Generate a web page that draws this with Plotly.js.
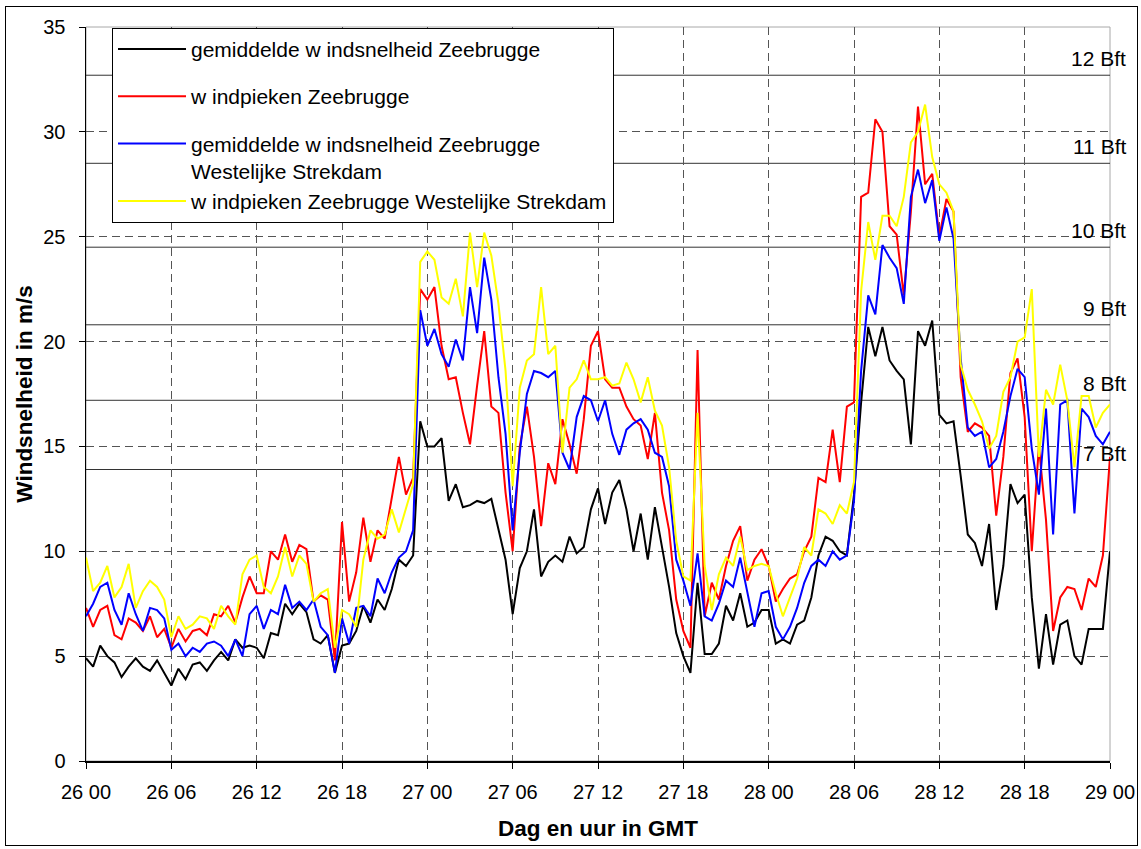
<!DOCTYPE html>
<html>
<head>
<meta charset="utf-8">
<script src="https://cdn.plot.ly/plotly-3.0.1.min.js"></script>
<style>
  html, body { margin: 0; padding: 0; background: #fff; }
  #wrap { position: relative; width: 1141px; height: 849px; }
  #chart { position: absolute; left: 0; top: 0; width: 1141px; height: 849px; }
  #frame { position: absolute; left: 5px; top: 6px; width: 1131px; height: 838px;
           border: 1.5px solid #000; pointer-events: none; }
</style>
</head>
<body>
<div id="wrap"><div id="chart"></div><div id="frame"></div></div>
<script>
// Time axis: half-hour samples from 26 00 (0 h) to 29 00 (72 h)
const tickHours = [0, 6, 12, 18, 24, 30, 36, 42, 48, 54, 60, 66, 72];
const tickLabels = ["26 00", "26 06", "26 12", "26 18", "27 00", "27 06", "27 12",
                    "27 18", "28 00", "28 06", "28 12", "28 18", "29 00"];
const yTicks = [0, 5, 10, 15, 20, 25, 30, 35];

// Series names
const names = [
  "gemiddelde w indsnelheid Zeebrugge",
  "w indpieken Zeebrugge",
  "gemiddelde w indsnelheid Zeebrugge<br>Westelijke Strekdam",
  "w indpieken Zeebrugge Westelijke Strekdam"
];

// gemiddelde windsnelheid Zeebrugge (m/s)
const meanZeebrugge = [
  4.9,4.5,5.5,5.0,4.7,4.0,4.5,4.9,4.5,4.3,4.8,4.2, 3.6,4.4,3.9,4.6,4.7,4.3,4.8,5.2,4.8,5.8,5.4,5.5,
  5.4,4.9,6.1,6.0,7.5,7.0,7.5,7.1,5.8,5.6,6.0,4.2, 5.5,5.6,6.2,7.4,6.6,7.7,7.2,8.2,9.6,9.3,9.8,16.2,
  15.0,15.0,15.4,12.4,13.2,12.1,12.2,12.4,12.3,12.5,11.0,9.6, 7.0,9.2,10.0,12.0,8.8,9.5,9.8,9.5,10.7,9.9,10.2,12.0,
  13.0,11.3,12.8,13.4,12.0,10.0,11.8,9.6,12.1,10.2,8.3,6.1, 5.0,4.2,8.5,5.1,5.1,5.6,7.4,6.7,8.0,6.4,6.6,7.2,
  7.2,5.6,5.8,5.6,6.5,6.7,7.8,9.8,10.7,10.5,10.0,9.8, 12.7,17.1,20.7,19.3,20.7,19.1,18.6,18.2,15.1,20.5,19.8,21.0,
  16.5,16.1,16.2,13.6,10.8,10.4,9.3,11.3,7.2,9.3,13.2,12.3, 12.7,7.8,4.4,7.0,4.6,6.5,6.7,5.0,4.6,6.3,6.3,6.3,10.0
];

// windpieken Zeebrugge (m/s)
const gustZeebrugge = [
  7.3,6.4,7.2,7.4,6.0,5.8,6.8,6.6,6.2,6.9,5.9,6.3, 5.4,6.3,5.7,6.2,6.3,6.0,7.0,6.9,7.4,6.6,7.8,8.8,
  8.0,8.0,10.0,9.6,10.8,9.5,10.3,10.1,7.6,7.9,7.7,4.8, 11.4,7.6,9.0,11.6,9.5,11.0,10.6,12.5,14.5,12.7,13.5,22.5,
  22.0,22.6,19.8,18.2,18.3,16.6,15.1,17.9,20.5,16.9,16.6,12.8, 10.0,15.0,16.9,14.5,11.2,14.2,13.2,16.3,15.1,13.7,16.3,19.8,
  20.5,18.2,17.8,17.8,16.9,16.3,16.0,14.4,16.6,12.8,11.0,7.7, 6.2,5.4,19.6,6.9,8.5,7.7,9.3,10.5,11.2,8.6,9.6,10.1,
  9.3,7.6,8.2,8.7,8.9,10.0,10.7,13.5,13.3,15.8,13.3,16.9, 17.1,26.9,27.1,30.6,30.0,25.5,25.1,22.2,26.2,31.2,27.5,28.0,
  25.0,26.8,26.2,18.3,15.7,16.1,15.9,15.5,11.7,14.5,18.5,19.2, 16.4,10.0,15.0,11.5,6.2,7.8,8.3,8.2,7.2,8.7,8.3,9.8,14.5
];

// gemiddelde windsnelheid Zeebrugge Westelijke Strekdam (m/s)
const meanStrekdam = [
  6.9,7.5,8.3,8.5,7.2,6.5,8.0,7.0,6.2,7.3,7.2,6.8, 5.3,5.6,5.0,5.4,5.2,5.6,5.7,5.5,5.0,5.8,5.0,7.0,
  7.4,6.3,7.2,7.0,8.4,7.3,7.6,7.2,7.7,6.4,6.0,4.2, 6.8,5.6,7.3,7.4,6.9,8.7,8.0,9.0,9.7,10.0,11.0,21.5,
  19.8,20.6,19.4,18.8,20.1,19.1,22.6,20.4,24.0,22.0,18.3,15.6, 11.0,14.7,17.5,18.6,18.5,18.3,18.6,14.7,13.9,16.4,17.4,17.2,
  16.2,17.2,15.6,14.6,15.8,16.1,16.3,15.8,14.7,14.5,13.1,9.6, 8.6,7.4,9.9,6.9,6.7,7.5,8.6,8.3,9.7,8.1,6.4,8.0,
  8.1,6.4,5.8,6.4,7.3,8.5,9.3,9.6,9.3,10.0,9.6,9.8, 12.4,18.6,22.2,21.3,24.6,24.0,23.5,21.8,26.9,28.2,26.6,27.7,
  24.8,26.4,24.9,19.2,15.9,15.5,15.7,14.0,14.4,15.7,17.4,18.7, 18.3,14.9,12.7,16.8,10.8,17.0,17.2,11.8,16.8,16.4,15.5,15.1,15.7
];

// windpieken Zeebrugge Westelijke Strekdam (m/s)
const gustStrekdam = [
  9.7,8.1,8.5,9.3,7.8,8.3,9.4,7.3,8.1,8.6,8.3,7.7, 5.9,6.9,6.3,6.5,6.9,6.8,6.3,7.4,6.9,6.5,8.9,9.6,
  9.8,8.3,8.0,8.8,10.2,8.8,9.8,9.4,7.6,8.0,8.2,5.4, 7.2,7.0,6.4,9.6,11.0,10.6,10.8,12.0,10.9,12.0,13.2,23.8,
  24.3,23.9,22.1,21.8,23.0,21.2,25.2,22.6,25.2,24.1,21.8,18.6, 13.1,17.8,19.1,19.4,22.6,19.4,19.8,14.7,17.8,18.2,19.1,18.2,
  18.2,18.3,17.9,18.0,19.0,18.2,17.1,18.3,16.7,16.0,14.0,10.5, 8.8,8.6,16.6,9.3,7.2,8.9,9.7,9.3,10.7,9.1,9.3,9.4,
  9.3,8.0,6.9,7.8,8.7,10.2,9.8,12.0,11.8,11.3,12.2,11.8, 13.3,22.4,25.7,23.9,26.0,26.0,25.5,26.9,29.5,30.0,31.3,28.8,
  27.5,27.1,26.2,18.9,17.7,17.0,16.2,14.9,15.5,17.6,18.3,20.0, 20.2,22.5,14.5,17.7,17.0,18.9,17.2,14.0,17.4,17.4,15.9,16.6,17.0
];

// Beaufort thresholds (m/s) and labels
const bftValues = [13.9, 17.2, 20.8, 24.5, 28.5, 32.7];
const bftLabels = ["7 Bft", "8 Bft", "9 Bft", "10 Bft", "11 Bft", "12 Bft"];

const hours = meanZeebrugge.map((_, i) => i * 0.5);

const seriesData = [meanZeebrugge, gustZeebrugge, meanStrekdam, gustStrekdam];
const colors = ["#000000", "#ff0000", "#0000ff", "#ffff00"];
const groups = ["g1", "g2", "g3", "g3"];

const traces = seriesData.map((ys, k) => ({
  x: hours, y: ys, type: "scatter", mode: "lines",
  name: names[k],
  legendgroup: groups[k],
  line: { color: colors[k], width: 2 },
  hoverinfo: "skip"
}));

const shapes = [
  { type: "rect", xref: "paper", yref: "paper", x0: 0, x1: 1, y0: 0, y1: 1,
    line: { color: "#a8a8a8", width: 1 }, layer: "below" }
].concat(bftValues.map(v => ({
  type: "line", xref: "paper", yref: "y", x0: 0, x1: 1, y0: v, y1: v,
  line: { color: "#333333", width: 1 }, layer: "below"
})));

const annotations = bftValues.map((v, i) => ({
  xref: "paper", yref: "y", x: 1.0176, y: v, text: bftLabels[i],
  showarrow: false, xanchor: "right", yanchor: "bottom", yshift: 3,
  font: { size: 21, color: "#000" }
}));

const axisCommon = {
  showline: true, linecolor: "#000", linewidth: 1.5,
  ticks: "outside", ticklen: 6, tickcolor: "#000", tickwidth: 1,
  showgrid: true, gridcolor: "#555555", gridwidth: 1, griddash: "8px,5px",
  zeroline: false, tickfont: { size: 20, color: "#000" }
};

const layout = {
  width: 1141, height: 849,
  margin: { l: 86, r: 31, t: 27, b: 88 },
  paper_bgcolor: "#ffffff", plot_bgcolor: "#ffffff",
  font: { family: "Liberation Sans, Arial, sans-serif", size: 20, color: "#000" },
  showlegend: true,
  legend: {
    x: 0.0254, y: 0.999, xanchor: "left", yanchor: "top",
    bgcolor: "#ffffff", bordercolor: "#000", borderwidth: 1,
    font: { size: 21, color: "#000" },
    traceorder: "grouped", tracegroupgap: 17, valign: "top", itemwidth: 68
  },
  xaxis: Object.assign({}, axisCommon, {
    range: [0, 72], tickmode: "array", tickvals: tickHours, ticktext: tickLabels,
    ticklabelstandoff: 6,
    title: { text: "<b>Dag en uur in GMT</b>", font: { size: 22.5 }, standoff: 18 }
  }),
  yaxis: Object.assign({}, axisCommon, {
    range: [0, 35], tickmode: "array", tickvals: yTicks,
    ticklabelstandoff: 9,
    title: { text: "<b>Windsnelheid in m/s</b>", font: { size: 22.5 }, standoff: 4 }
  }),
  shapes: shapes,
  annotations: annotations
};

Plotly.newPlot("chart", traces, layout, { displayModeBar: false, staticPlot: true });
</script>
</body>
</html>
